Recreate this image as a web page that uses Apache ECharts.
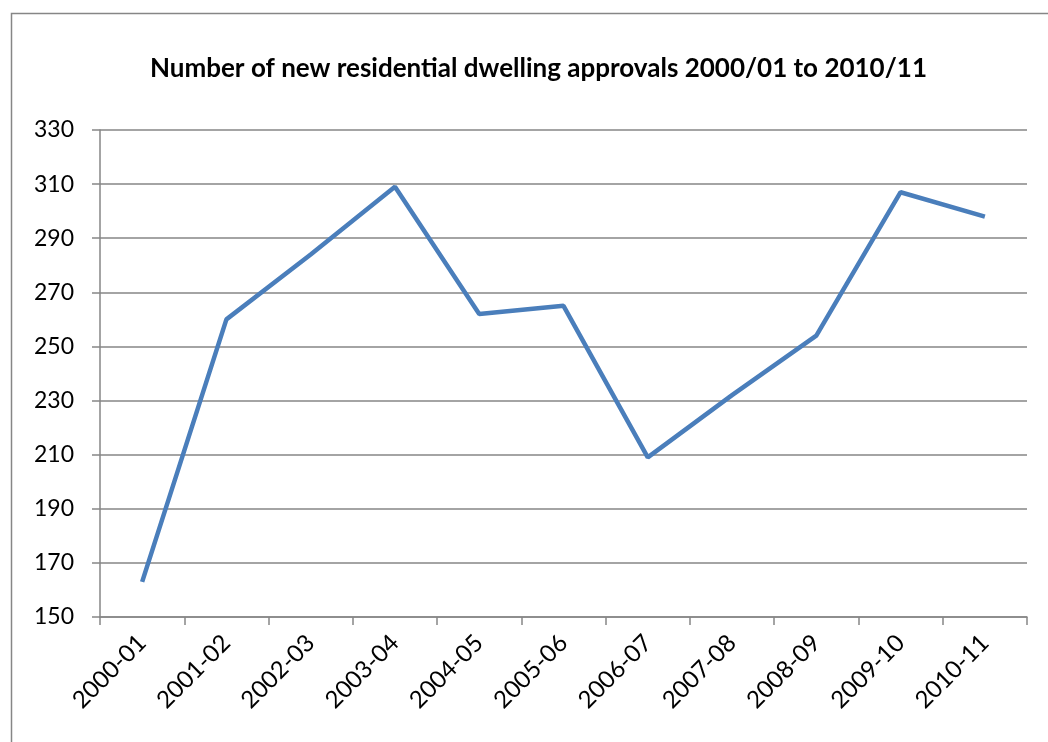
<!DOCTYPE html>
<html><head><meta charset="utf-8">
<script src="https://cdn.jsdelivr.net/npm/echarts@6/dist/echarts.min.js"></script>
<style>html,body{margin:0;padding:0;background:#fff}#c{width:1048px;height:742px}</style>
</head><body><div id="c"></div>
<script>
const categories = ['2000-01','2001-02','2002-03','2003-04','2004-05','2005-06','2006-07','2007-08','2008-09','2009-10','2010-11'];
const approvals = [163, 260, 284, 309, 262, 265, 209, 232, 254, 307, 298];
const yTicks = {min:150, max:330, interval:20};
const titleText = 'Number of new residential dwelling approvals 2000/01 to 2010/11';
const font = 'Lato, "Open Sans", sans-serif';

const chart = echarts.init(document.getElementById('c'));
chart.setOption({
  animation:false,
  graphic:[{type:'rect', left:9, top:11, shape:{width:1200, height:900}, style:{fill:'none', stroke:'#868686', lineWidth:1.5}, z:-1}],
  title:{text:titleText, left:145, top:51, textStyle:{fontFamily:font, fontSize:26, fontWeight:'bold', color:'#000'}},
  grid:{left:100, right:21, top:130, bottom:125},
  xAxis:{type:'category', data:categories, boundaryGap:true,
    axisLine:{lineStyle:{color:'#868686', width:1.5}},
    axisTick:{show:true, length:8, alignWithLabel:false, lineStyle:{color:'#868686', width:1.5}},
    axisLabel:{rotate:45, margin:22, fontFamily:font, fontSize:24, color:'#000', interval:0}},
  yAxis:{type:'value', min:yTicks.min, max:yTicks.max, interval:yTicks.interval,
    axisLine:{show:true, lineStyle:{color:'#868686', width:1.5}},
    axisTick:{show:true, length:8, lineStyle:{color:'#868686', width:1.5}},
    splitLine:{lineStyle:{color:'#868686', width:1.5}},
    axisLabel:{margin:26, fontFamily:font, fontSize:23, color:'#000'}},
  series:[{type:'line', data:approvals, symbol:'none', lineStyle:{color:'#4A7EBB', width:4.5}, itemStyle:{color:'#4A7EBB'}}]
});
</script></body></html>
